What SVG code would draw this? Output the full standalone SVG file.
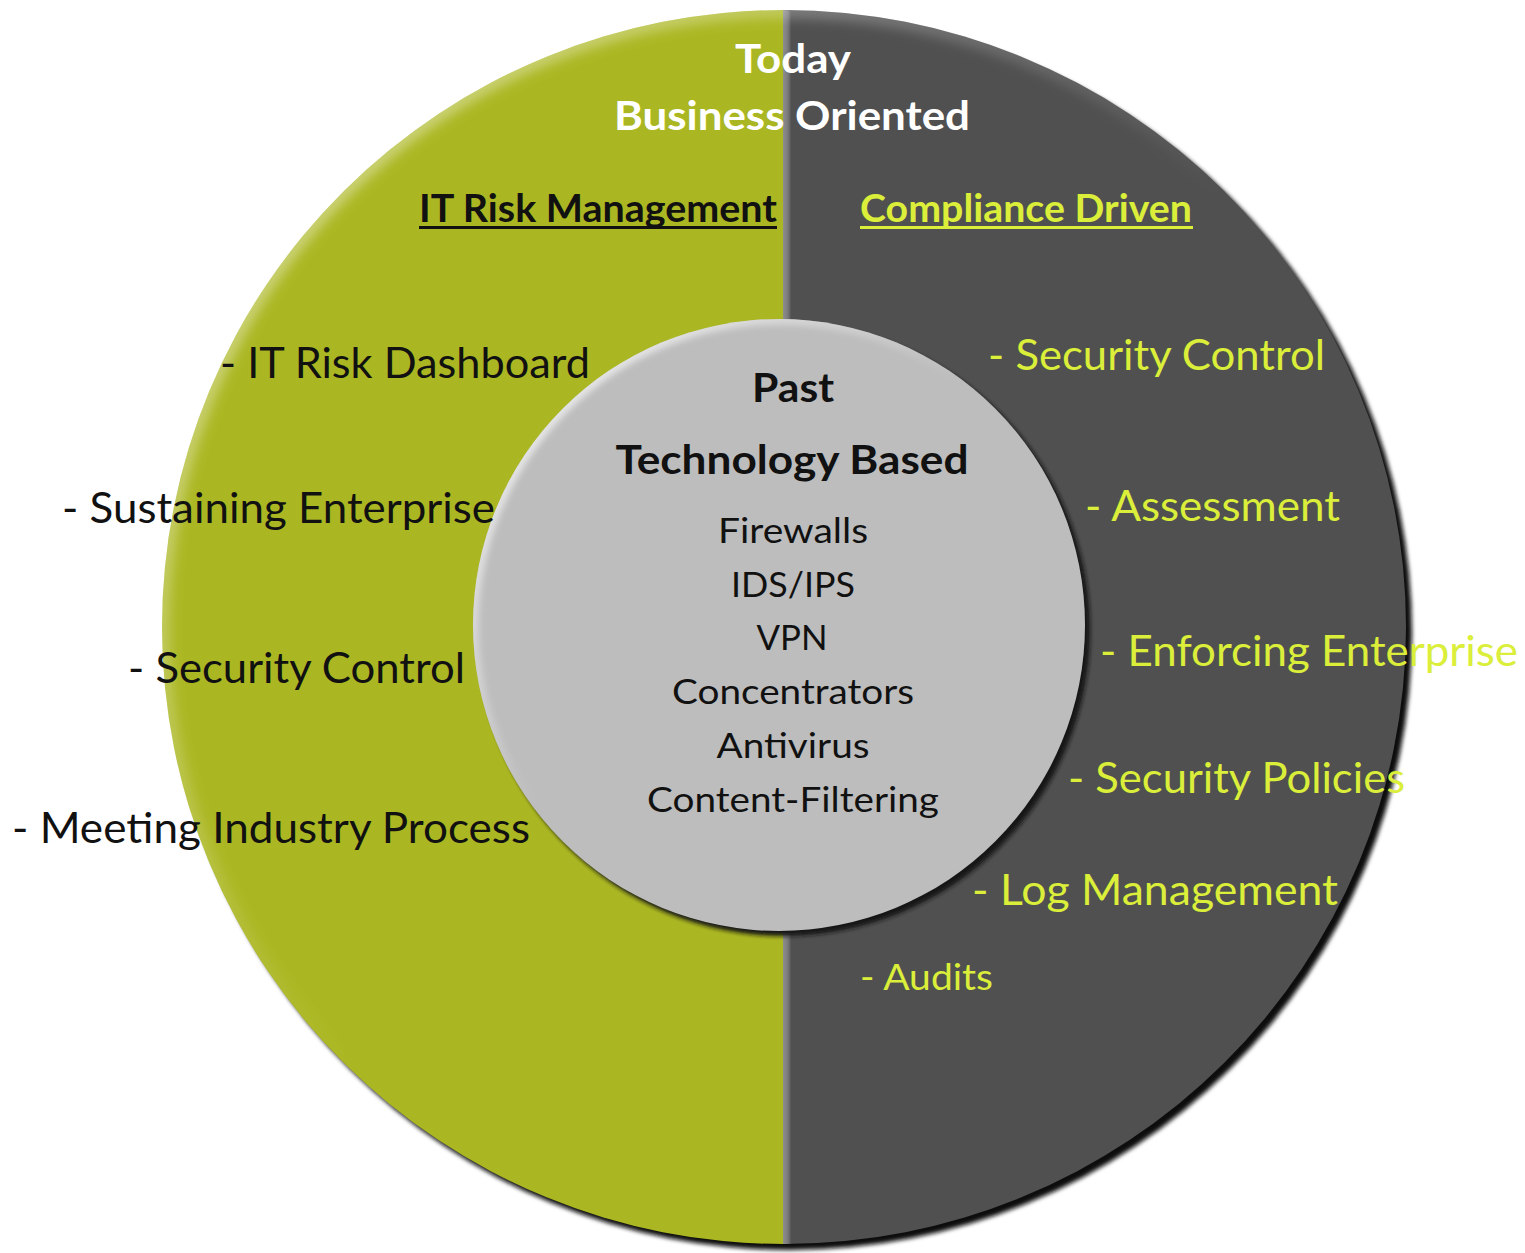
<svg xmlns="http://www.w3.org/2000/svg" width="1525" height="1253" viewBox="0 0 1525 1253">
<defs>
<style>
text{font-family:Lato,"Open Sans","Liberation Sans",sans-serif}
.w{fill:#ffffff;font-weight:bold;font-size:40px;text-anchor:middle}
.hb{fill:#111111;font-weight:bold;font-size:39px}
.hy{fill:#daee3a;font-weight:bold;font-size:39px}
.lb{fill:#111111;font-size:43px}
.ry{fill:#daee3a;font-size:43px}
.ry2{fill:#daee3a;font-size:36px}
.cb{fill:#111111;font-weight:bold;font-size:40px;text-anchor:middle}
.ci{fill:#111111;font-size:35px;text-anchor:middle}
</style>
<filter id="blur2" x="-10%" y="-10%" width="120%" height="120%"><feGaussianBlur stdDeviation="2"/></filter>
<filter id="blur3" x="-10%" y="-10%" width="120%" height="120%"><feGaussianBlur stdDeviation="3"/></filter>
<filter id="blur6" x="-10%" y="-10%" width="120%" height="120%"><feGaussianBlur stdDeviation="6"/></filter>
<clipPath id="outerClip"><ellipse cx="784" cy="627" rx="622" ry="617"/></clipPath>
<clipPath id="innerClip"><circle cx="779" cy="625" r="306"/></clipPath>
<linearGradient id="divg" x1="0" y1="0" x2="1" y2="0">
<stop offset="0" stop-color="#8e8e8e"/><stop offset="0.6" stop-color="#7a7a7a"/><stop offset="1" stop-color="#555555"/>
</linearGradient>
<linearGradient id="hiL" x1="0" y1="0" x2="1" y2="1">
<stop offset="0" stop-color="#ffffff" stop-opacity="0.55"/><stop offset="0.5" stop-color="#ffffff" stop-opacity="0"/>
</linearGradient>
<linearGradient id="hiI" x1="0" y1="0" x2="1" y2="1">
<stop offset="0" stop-color="#ffffff" stop-opacity="0.9"/><stop offset="0.45" stop-color="#ffffff" stop-opacity="0"/>
</linearGradient>
</defs>

<g id="outer-ring">
<ellipse cx="790" cy="633" rx="622" ry="617" fill="#111111" filter="url(#blur2)"/>
<g clip-path="url(#outerClip)">
<rect x="150" y="0" width="635" height="1253" fill="#abb722"/>
<rect x="785" y="0" width="640" height="1253" fill="#505050"/>
<rect x="783" y="0" width="8" height="1253" fill="url(#divg)"/>
<ellipse cx="784" cy="627" rx="622" ry="617" fill="none" stroke="url(#hiL)" stroke-width="16" filter="url(#blur6)"/>
</g>
</g>

<g id="inner-circle">
<circle cx="784" cy="630" r="306" fill="#151515" filter="url(#blur2)"/>
<circle cx="779" cy="625" r="306" fill="#bdbdbd"/>
<g clip-path="url(#innerClip)">
<circle cx="779" cy="625" r="306" fill="none" stroke="url(#hiI)" stroke-width="12" filter="url(#blur3)"/>
</g>
</g>

<g id="title">
<text class="w" x="793" y="73" textLength="116" lengthAdjust="spacingAndGlyphs">Today</text>
<text class="w" x="792" y="130" textLength="356" lengthAdjust="spacingAndGlyphs">Business Oriented</text>
</g>

<g id="it-risk-management">
<text class="hb" x="419" y="222" textLength="358" lengthAdjust="spacingAndGlyphs">IT Risk Management</text>
<rect x="419" y="226" width="358" height="3" fill="#111111"/>
<text class="lb" x="220" y="378" textLength="370" lengthAdjust="spacingAndGlyphs">- IT Risk Dashboard</text>
<text class="lb" x="62" y="523" textLength="433" lengthAdjust="spacingAndGlyphs">- Sustaining Enterprise</text>
<text class="lb" x="128" y="683" textLength="337" lengthAdjust="spacingAndGlyphs">- Security Control</text>
<text class="lb" x="12" y="843" textLength="518" lengthAdjust="spacingAndGlyphs">- Meeting Industry Process</text>
</g>

<g id="compliance-driven">
<text class="hy" x="860" y="222" textLength="332" lengthAdjust="spacingAndGlyphs">Compliance Driven</text>
<rect x="860" y="226" width="333" height="3" fill="#daee3a"/>
<text class="ry" x="988" y="370" textLength="337" lengthAdjust="spacingAndGlyphs">- Security Control</text>
<text class="ry" x="1085" y="521" textLength="255" lengthAdjust="spacingAndGlyphs">- Assessment</text>
<text class="ry" x="1100" y="666" textLength="418" lengthAdjust="spacingAndGlyphs">- Enforcing Enterprise</text>
<text class="ry" x="1068" y="793" textLength="337" lengthAdjust="spacingAndGlyphs">- Security Policies</text>
<text class="ry" x="972" y="905" textLength="366" lengthAdjust="spacingAndGlyphs">- Log Management</text>
<text class="ry2" x="860" y="990" textLength="133" lengthAdjust="spacingAndGlyphs">- Audits</text>
</g>

<g id="past">
<text class="cb" x="793" y="402" textLength="82" lengthAdjust="spacingAndGlyphs">Past</text>
<text class="cb" x="792" y="474" textLength="353" lengthAdjust="spacingAndGlyphs">Technology Based</text>
<text class="ci" x="793" y="543" textLength="150" lengthAdjust="spacingAndGlyphs">Firewalls</text>
<text class="ci" x="793" y="597" textLength="124" lengthAdjust="spacingAndGlyphs">IDS/IPS</text>
<text class="ci" x="792" y="650" textLength="71" lengthAdjust="spacingAndGlyphs">VPN</text>
<text class="ci" x="793" y="704" textLength="242" lengthAdjust="spacingAndGlyphs">Concentrators</text>
<text class="ci" x="793" y="758" textLength="153" lengthAdjust="spacingAndGlyphs">Antivirus</text>
<text class="ci" x="793" y="812" textLength="292" lengthAdjust="spacingAndGlyphs">Content-Filtering</text>
</g>
</svg>
